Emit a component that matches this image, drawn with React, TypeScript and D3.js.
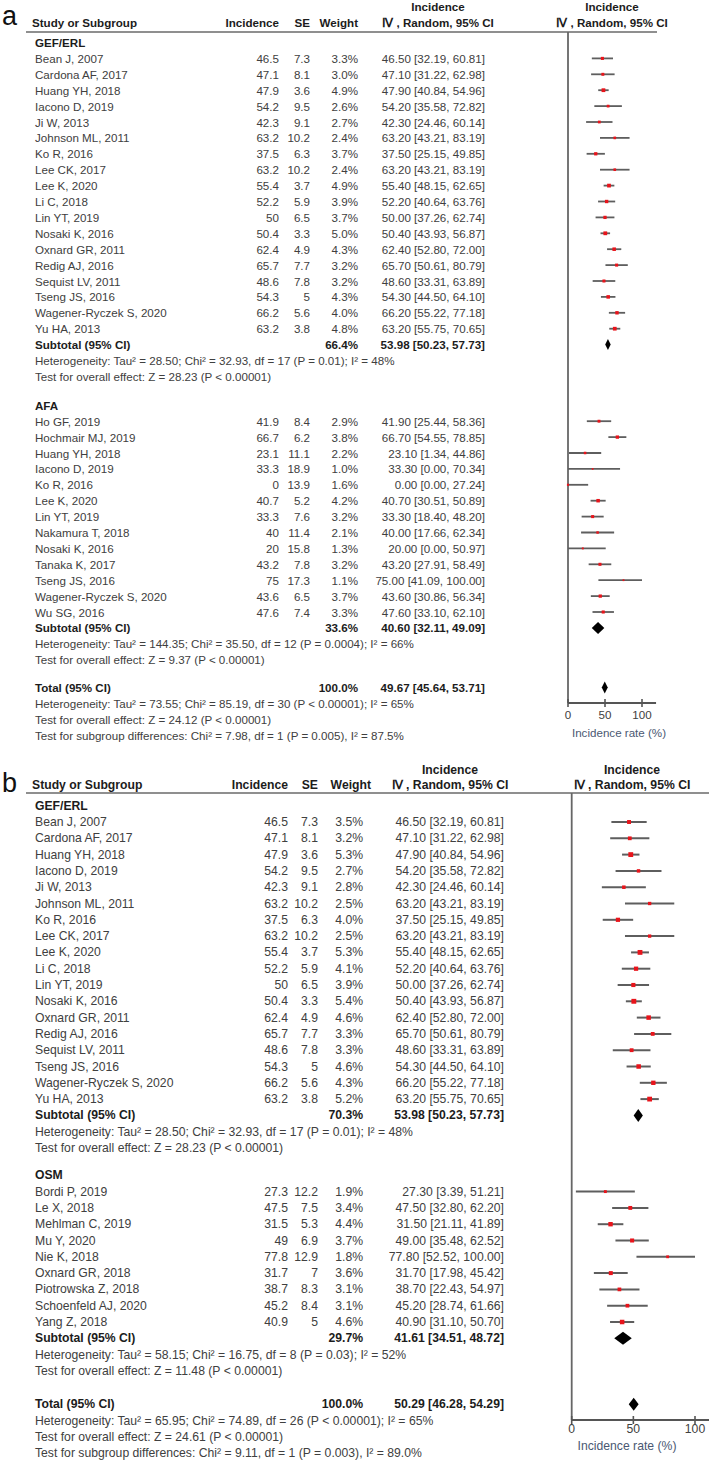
import React from 'react';
import * as d3 from 'd3';

// ---- data ----
const gefNames = ['Bean J, 2007', 'Cardona AF, 2017', 'Huang YH, 2018', 'Iacono D, 2019', 'Ji W, 2013', 'Johnson ML, 2011', 'Ko R, 2016', 'Lee CK, 2017', 'Lee K, 2020', 'Li C, 2018', 'Lin YT, 2019', 'Nosaki K, 2016', 'Oxnard GR, 2011', 'Redig AJ, 2016', 'Sequist LV, 2011', 'Tseng JS, 2016', 'Wagener-Ryczek S, 2020', 'Yu HA, 2013'];
const gefIncidence = [46.5, 47.1, 47.9, 54.2, 42.3, 63.2, 37.5, 63.2, 55.4, 52.2, 50, 50.4, 62.4, 65.7, 48.6, 54.3, 66.2, 63.2];
const gefSE = [7.3, 8.1, 3.6, 9.5, 9.1, 10.2, 6.3, 10.2, 3.7, 5.9, 6.5, 3.3, 4.9, 7.7, 7.8, 5, 5.6, 3.8];
const gefLower = [32.19, 31.22, 40.84, 35.58, 24.46, 43.21, 25.15, 43.21, 48.15, 40.64, 37.26, 43.93, 52.8, 50.61, 33.31, 44.5, 55.22, 55.75];
const gefUpper = [60.81, 62.98, 54.96, 72.82, 60.14, 83.19, 49.85, 83.19, 62.65, 63.76, 62.74, 56.87, 72.0, 80.79, 63.89, 64.1, 77.18, 70.65];
const gefWeightA = [3.3, 3.0, 4.9, 2.6, 2.7, 2.4, 3.7, 2.4, 4.9, 3.9, 3.7, 5.0, 4.3, 3.2, 3.2, 4.3, 4.0, 4.8];
const gefWeightB = [3.5, 3.2, 5.3, 2.7, 2.8, 2.5, 4.0, 2.5, 5.3, 4.1, 3.9, 5.4, 4.6, 3.3, 3.3, 4.6, 4.3, 5.2];

const afaNames = ['Ho GF, 2019', 'Hochmair MJ, 2019', 'Huang YH, 2018', 'Iacono D, 2019', 'Ko R, 2016', 'Lee K, 2020', 'Lin YT, 2019', 'Nakamura T, 2018', 'Nosaki K, 2016', 'Tanaka K, 2017', 'Tseng JS, 2016', 'Wagener-Ryczek S, 2020', 'Wu SG, 2016'];
const afaIncidence = [41.9, 66.7, 23.1, 33.3, 0, 40.7, 33.3, 40, 20, 43.2, 75, 43.6, 47.6];
const afaSE = [8.4, 6.2, 11.1, 18.9, 13.9, 5.2, 7.6, 11.4, 15.8, 7.8, 17.3, 6.5, 7.4];
const afaLower = [25.44, 54.55, 1.34, 0, 0, 30.51, 18.4, 17.66, 0, 27.91, 41.09, 30.86, 33.1];
const afaUpper = [58.36, 78.85, 44.86, 70.34, 27.24, 50.89, 48.2, 62.34, 50.97, 58.49, 100, 56.34, 62.1];
const afaWeight = [2.9, 3.8, 2.2, 1.0, 1.6, 4.2, 3.2, 2.1, 1.3, 3.2, 1.1, 3.7, 3.3];

const osmNames = ['Bordi P, 2019', 'Le X, 2018', 'Mehlman C, 2019', 'Mu Y, 2020', 'Nie K, 2018', 'Oxnard GR, 2018', 'Piotrowska Z, 2018', 'Schoenfeld AJ, 2020', 'Yang Z, 2018'];
const osmIncidence = [27.3, 47.5, 31.5, 49, 77.8, 31.7, 38.7, 45.2, 40.9];
const osmSE = [12.2, 7.5, 5.3, 6.9, 12.9, 7, 8.3, 8.4, 5];
const osmLower = [3.39, 32.8, 21.11, 35.48, 52.52, 17.98, 22.43, 28.74, 31.1];
const osmUpper = [51.21, 62.2, 41.89, 62.52, 100, 45.42, 54.97, 61.66, 50.7];
const osmWeight = [1.9, 3.4, 4.4, 3.7, 1.8, 3.6, 3.1, 3.1, 4.6];

// pooled estimate, lower, upper
const gefPooled = [53.98, 50.23, 57.73];
const afaPooled = [40.6, 32.11, 49.09];
const osmPooled = [41.61, 34.51, 48.72];
const totalPooledA = [49.67, 45.64, 53.71];
const totalPooledB = [50.29, 46.28, 54.29];
const pooledWeightsA = [66.4, 33.6, 100];
const pooledWeightsB = [70.3, 29.7, 100];

const gefStats = ['Heterogeneity: Tau\u00b2 = 28.50; Chi\u00b2 = 32.93, df = 17 (P = 0.01); I\u00b2 = 48%', 'Test for overall effect: Z = 28.23 (P < 0.00001)'];
const afaStats = ['Heterogeneity: Tau\u00b2 = 144.35; Chi\u00b2 = 35.50, df = 12 (P = 0.0004); I\u00b2 = 66%', 'Test for overall effect: Z = 9.37 (P < 0.00001)'];
const osmStats = ['Heterogeneity: Tau\u00b2 = 58.15; Chi\u00b2 = 16.75, df = 8 (P = 0.03); I\u00b2 = 52%', 'Test for overall effect: Z = 11.48 (P < 0.00001)'];
const totalStatsA = ['Heterogeneity: Tau\u00b2 = 73.55; Chi\u00b2 = 85.19, df = 30 (P < 0.00001); I\u00b2 = 65%', 'Test for overall effect: Z = 24.12 (P < 0.00001)', 'Test for subgroup differences: Chi\u00b2 = 7.98, df = 1 (P = 0.005), I\u00b2 = 87.5%'];
const totalStatsB = ['Heterogeneity: Tau\u00b2 = 65.95; Chi\u00b2 = 74.89, df = 26 (P < 0.00001); I\u00b2 = 65%', 'Test for overall effect: Z = 24.61 (P < 0.00001)', 'Test for subgroup differences: Chi\u00b2 = 9.11, df = 1 (P = 0.003), I\u00b2 = 89.0%'];

const xTicks = [0, 50, 100];

const FONT = '"Liberation Sans", Arial, sans-serif';
const TXT = '#404040';
const BOLD = '#1c1c1c';

const fmtCI = (m, lo, hi) => `${m.toFixed(2)} [${lo.toFixed(2)}, ${hi.toFixed(2)}]`;

function Panel({ tag, L, groups, total, totalWeight, totalStats }) {
  const x = d3.scaleLinear().domain([0, 100]).range([L.x0, L.x100]);
  const rows = [];
  let y = L.first;
  groups.forEach((g, gi) => {
    if (gi > 0) y += L.gap1;
    rows.push({ kind: 'head', y, label: g.label });
    y += L.step;
    g.names.forEach((n, i) => {
      rows.push({ kind: 'study', y, name: n, inc: g.inc[i], se: g.se[i], lo: g.lo[i], hi: g.hi[i], w: g.w[i] });
      y += L.step;
    });
    rows.push({ kind: 'pool', y, label: 'Subtotal (95% CI)', p: g.pooled, w: g.pw, h: L.dh[gi] });
    y += L.step;
    g.stats.forEach(s => { rows.push({ kind: 'stat', y, text: s }); y += L.step; });
  });
  y += L.gap2;
  rows.push({ kind: 'pool', y, label: 'Total (95% CI)', p: total, w: totalWeight, h: L.dh[2] });
  y += L.step;
  totalStats.forEach(s => { rows.push({ kind: 'stat', y, text: s }); y += L.step; });

  const fs = L.fs;
  const t = (props, s) => <text fontFamily={FONT} fontSize={fs} dominantBaseline="central" {...props}>{s}</text>;

  return (
    <g>
      <text x={L.tagX} y={L.tagY} fontFamily={FONT} fontSize={27} fill="#111">{tag}</text>
      {/* header */}
      {t({ x: 32, y: L.h2, fontWeight: 'bold', fill: BOLD }, 'Study or Subgroup')}
      {t({ x: L.incX, y: L.h2, textAnchor: 'end', fontWeight: 'bold', fill: BOLD }, 'Incidence')}
      {t({ x: L.seX, y: L.h2, textAnchor: 'end', fontWeight: 'bold', fill: BOLD }, 'SE')}
      {t({ x: L.wHead, y: L.h2, textAnchor: 'end', fontWeight: 'bold', fill: BOLD }, 'Weight')}
      {t({ x: L.ciHead, y: L.h1, textAnchor: 'middle', fontWeight: 'bold', fill: BOLD }, 'Incidence')}
      {t({ x: L.ciHead, y: L.h2, textAnchor: 'middle', fontWeight: 'bold', fill: BOLD }, '\u2163 , Random, 95% CI')}
      {t({ x: L.plotHead, y: L.h1, textAnchor: 'middle', fontWeight: 'bold', fill: BOLD }, 'Incidence')}
      {t({ x: L.plotHead, y: L.h2, textAnchor: 'middle', fontWeight: 'bold', fill: BOLD }, '\u2163 , Random, 95% CI')}
      <line x1={L.ruleX1} x2={L.ruleX2} y1={L.rule} y2={L.rule} stroke="#6a6a6a" strokeWidth={1.6} />
      {/* zero line */}
      <line x1={x(0)} x2={x(0)} y1={L.rule} y2={L.axisY} stroke="#666" strokeWidth={1.8} />
      {rows.map((r, i) => {
        if (r.kind === 'head') return <g key={i}>{t({ x: 35, y: r.y, fontWeight: 'bold', fill: BOLD }, r.label)}</g>;
        if (r.kind === 'stat') return <g key={i}>{t({ x: 35, y: r.y, fill: TXT }, r.text)}</g>;
        if (r.kind === 'study') {
          const s = L.dotK * Math.sqrt(r.w);
          return (
            <g key={i}>
              {t({ x: 35, y: r.y, fill: TXT }, r.name)}
              {t({ x: L.incX, y: r.y, textAnchor: 'end', fill: TXT }, String(r.inc))}
              {t({ x: L.seX, y: r.y, textAnchor: 'end', fill: TXT }, String(r.se))}
              {t({ x: L.wX, y: r.y, textAnchor: 'end', fill: TXT }, r.w.toFixed(1) + '%')}
              {t({ x: L.ciX, y: r.y, textAnchor: 'end', fill: TXT }, fmtCI(r.inc, r.lo, r.hi))}
              <line x1={x(r.lo)} x2={x(r.hi)} y1={r.y} y2={r.y} stroke="#5e5e5e" strokeWidth={L.ciW} />
              <rect x={x(r.inc) - s / 2} y={r.y - s / 2} width={s} height={s} fill="#e8141b" />
            </g>
          );
        }
        const [m, lo, hi] = r.p;
        const d = `M${x(lo)},${r.y}L${x(m)},${r.y - r.h / 2}L${x(hi)},${r.y}L${x(m)},${r.y + r.h / 2}Z`;
        return (
          <g key={i}>
            {t({ x: 35, y: r.y, fontWeight: 'bold', fill: BOLD }, r.label)}
            {t({ x: L.wX, y: r.y, textAnchor: 'end', fontWeight: 'bold', fill: BOLD }, r.w.toFixed(1) + '%')}
            {t({ x: L.ciX, y: r.y, textAnchor: 'end', fontWeight: 'bold', fill: BOLD }, fmtCI(m, lo, hi))}
            <path d={d} fill="#000" />
          </g>
        );
      })}
      {/* axis */}
      <line x1={x(0)} x2={x(L.axisMax)} y1={L.axisY} y2={L.axisY} stroke="#555" strokeWidth={2} />
      {xTicks.map(v => (
        <g key={v}>
          <line x1={x(v)} x2={x(v)} y1={L.axisY - 4} y2={L.axisY + 4} stroke="#555" strokeWidth={1.6} />
          <text x={x(v)} y={L.tickY} fontFamily={FONT} fontSize={fs} textAnchor="middle" dominantBaseline="central" fill={TXT}>{v}</text>
        </g>
      ))}
      <text x={L.titleX} y={L.titleY} fontFamily={FONT} fontSize={fs} textAnchor="middle" dominantBaseline="central" fill="#4a5872">Incidence rate (%)</text>
    </g>
  );
}

const layoutA = {
  tagX: 2, tagY: 25, fs: 11.6,
  h1: 6, h2: 22, rule: 32, ruleX1: 26, ruleX2: 657,
  incX: 279, seX: 310, wX: 358, wHead: 358, ciX: 485, ciHead: 438, plotHead: 612,
  x0: 568, x100: 642, axisMax: 119, axisY: 703, tickY: 714, titleX: 619, titleY: 732,
  first: 42.5, step: 15.9, gap1: 13, gap2: 12, dh: [11, 12, 12], dotK: 1.7, ciW: 1.8,
};

const layoutB = {
  tagX: 2, tagY: 792, fs: 12.2,
  h1: 770, h2: 785, rule: 793, ruleX1: 26, ruleX2: 709,
  incX: 288, seX: 318, wX: 363, wHead: 371, ciX: 504, ciHead: 450, plotHead: 632,
  x0: 571.7, x100: 695, axisMax: 120, axisY: 1420, tickY: 1429, titleX: 627, titleY: 1446,
  first: 805.7, step: 16.3, gap1: 11, gap2: 17, dh: [13, 13, 13], dotK: 2.1, ciW: 2,
};

export default function App() {
  const groupsA = [
    { label: 'GEF/ERL', names: gefNames, inc: gefIncidence, se: gefSE, lo: gefLower, hi: gefUpper, w: gefWeightA, pooled: gefPooled, pw: pooledWeightsA[0], stats: gefStats },
    { label: 'AFA', names: afaNames, inc: afaIncidence, se: afaSE, lo: afaLower, hi: afaUpper, w: afaWeight, pooled: afaPooled, pw: pooledWeightsA[1], stats: afaStats },
  ];
  const groupsB = [
    { label: 'GEF/ERL', names: gefNames, inc: gefIncidence, se: gefSE, lo: gefLower, hi: gefUpper, w: gefWeightB, pooled: gefPooled, pw: pooledWeightsB[0], stats: gefStats },
    { label: 'OSM', names: osmNames, inc: osmIncidence, se: osmSE, lo: osmLower, hi: osmUpper, w: osmWeight, pooled: osmPooled, pw: pooledWeightsB[1], stats: osmStats },
  ];
  return (
    <div style={{ position: 'absolute', left: 0, top: 0 }}>
      <svg width={709} height={1462} style={{ display: 'block', background: '#fff' }}>
        <Panel tag="a" L={layoutA} groups={groupsA} total={totalPooledA} totalWeight={pooledWeightsA[2]} totalStats={totalStatsA} />
        <Panel tag="b" L={layoutB} groups={groupsB} total={totalPooledB} totalWeight={pooledWeightsB[2]} totalStats={totalStatsB} />
      </svg>
    </div>
  );
}
